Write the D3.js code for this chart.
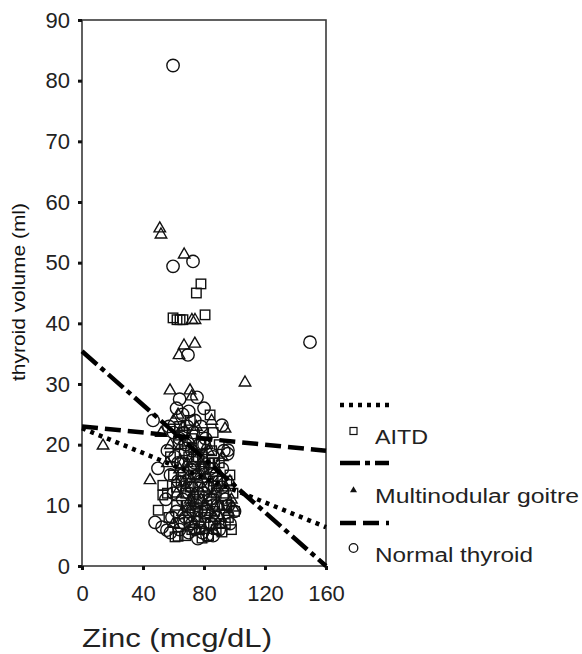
<!DOCTYPE html>
<html><head><meta charset="utf-8">
<script src="https://cdn.jsdelivr.net/npm/d3@7"></script>
<style>body{margin:0;background:#fff}svg{display:block}</style>
</head><body>
<svg id="c" width="582" height="654"></svg>
<script>
// ---- data ----
const xTicks = [0, 40, 80, 120, 160];
const yTicks = [0, 10, 20, 30, 40, 50, 60, 70, 80, 90];
const xTitle = "Zinc (mcg/dL)";
const yTitle = "thyroid volume (ml)";
const legendLabels = ["AITD", "Multinodular goitre", "Normal thyroid"];

// AITD (squares)
const aitdPoints = [
  [78,46.5],[75,45],[59.7,40.9],[62.3,40.6],[64.3,40.6],[66.2,40.6],[80.7,41.4],
  [84,24.9],[97,15],[53,13.3],[53,11.7],[50,9.2],[61,4.8],[78.7,4.6],[91.8,5.6],[63,4.9],
  [66,22],[72,21],[78,20],[85,19],[90,17],[95,14],[88,12],[82,10],[76,9],[70,8],[64,7],
  [68,12],[74,15],[80,16],[86,14],[92,10],[96,8],[99,12],[72,6],[84,7],[88,6],[94,7],
  [66,17],[60,15],[58,18],[62,10],[70,18],[76,13],[82,13],[90,20],[57,8],[79,22],[73,11],
  [87,9],[65,14],[80,7],[68,5],[75,18],[83,17],[93,12],[100,9],[71,24],[63,20],[77,11],[86,22],
  [69,10],[74,9],[81,8],[89,14],[67,19],[73,16],[79,18],[85,11],[91,7],[95,10],[62,13],
  [77,6],[83,5],[87,17],[71,13],[64,23],[56,12],[98,6]
];
// Multinodular goitre (triangles)
const mngPoints = [
  [51,55.7],[51.8,54.7],[67,51.4],[72.1,40.6],[74.1,40.6],[66.9,36.4],[74,36.7],[63.6,34.8],
  [106.9,30.3],[57.7,29],[70.8,29],[13.8,19.9],[44.6,14.2],[93.8,22.7],[72,28],
  [60,24],[66,23],[70,21],[74,19],[78,17],[82,15],[86,12],[90,10],[96,9],[99,9.7],[64,16],
  [68,13],[72,10],[76,8],[80,6],[84,9],[88,16],[92,18],[58,20],[62,12],[70,15],[74,12],
  [78,11],[82,20],[66,9],[60,7],[86,6],[94,13],[98,11],[75,23],[69,17],[85,24],[52,22],
  [56,17],[79,13],[63,25],[91,8],[73,7],[97,14],
  [67,14],[71,11],[77,15],[81,10],[87,8],[65,20],[83,19],[89,13],[75,6]
];
// Normal thyroid (circles)
const normalPoints = [
  [59.7,82.5],[149.5,36.9],[59.7,49.4],[72.8,50.2],[69.5,34.8],[75.4,27.8],[95.7,19.1],
  [91.8,23.2],[46.6,24],[49.8,16.1],[47.9,7.2],[52.5,6.4],[55.7,5.9],
  [62,26],[66,25],[70,25.5],[74,24],[78,23],[60,22],[64,21],[68,20],[72,19],[76,18],[80,17],
  [84,16],[88,15],[92,13],[96,10],[56,19],[58,15],[60,12],[62,9],[64,6],[66,11],[68,14],
  [70,9],[72,13],[74,6],[76,15],[78,9],[80,12],[82,5],[84,11],[86,18],[88,8],[90,6],[92,16],
  [94,11],[65,17],[71,16],[77,20],[83,13],[89,10],[55,11],[59,8],[67,7],[73,22],[79,5.5],
  [85,7],[61,18],[69,23],[75,10],[81,21],[87,13],[63,14],[57,23],[93,19],[97,7],[70,5.5],
  [76,4.5],[58,5.5],[86,5],[100,9],[64,27.5],[80,26],[95.5,18.5],
  [66,15],[70,12],[74,17],[78,14],[82,9],[86,10],[90,14],[68,8],[72,7],[76,12],[80,20],
  [63,17],[67,22],[73,9],[79,16],[85,15]
];
// fitted lines: [start, end]
const aitdFit = [[0, 22.7], [160, 6.4]];
const mngFit = [[0, 35.4], [160, 0]];
const normalFit = [[0, 23.0], [160, 19.0]];

// ---- drawing ----
const svg = d3.select("#c");
const plot = {l: 82, t: 20, r: 326, b: 566};
const x = d3.scaleLinear().domain([0, 160]).range([plot.l, plot.r]);
const y = d3.scaleLinear().domain([0, 90]).range([plot.b, plot.t]);
const FONT = "'Liberation Sans', Arial, Helvetica, sans-serif";

// frame
svg.append("rect").attr("x", plot.l).attr("y", plot.t)
  .attr("width", plot.r - plot.l).attr("height", plot.b - plot.t)
  .attr("fill", "none").attr("stroke", "#3a3a3a").attr("stroke-width", 1.6);

// axes
const gx = svg.append("g").attr("transform", `translate(0,${plot.b})`)
  .call(d3.axisBottom(x).tickValues(xTicks).tickSize(4).tickPadding(15).tickFormat(d3.format("d")));
const gy = svg.append("g").attr("transform", `translate(${plot.l},0)`)
  .call(d3.axisLeft(y).tickValues(yTicks).tickSize(4).tickPadding(8).tickFormat(d3.format("d")));
[gx, gy].forEach(g => {
  g.select(".domain").remove();
  g.selectAll(".tick line").attr("stroke", "#111").attr("stroke-width", 3);
  g.selectAll(".tick text").attr("fill", "#222").style("font-family", FONT).style("font-size", "22px");
});

// titles
svg.append("text").attr("x", 82).attr("y", 647).text(xTitle)
  .attr("textLength", 190).attr("lengthAdjust", "spacingAndGlyphs")
  .style("font-family", FONT).style("font-size", "26px").attr("fill", "#222");
svg.append("text").attr("transform", "translate(25,292) rotate(-90)")
  .attr("text-anchor", "middle").text(yTitle)
  .attr("textLength", 178).attr("lengthAdjust", "spacingAndGlyphs")
  .style("font-family", FONT).style("font-size", "19px").attr("fill", "#111");

// markers
const sq = 9.5, tri = 11.5, rc = 6.2;
const marks = svg.append("g").attr("fill", "none").attr("stroke", "#111").attr("stroke-width", 1.4);
marks.selectAll("rect.a").data(aitdPoints).join("rect").attr("class", "a")
  .attr("x", d => x(d[0]) - sq / 2).attr("y", d => y(d[1]) - sq / 2)
  .attr("width", sq).attr("height", sq);
const triPath = (cx, cy, s) => {
  const h = s * 0.866;
  return `M${cx},${cy - h * 0.62}L${cx + s / 2},${cy + h * 0.38}L${cx - s / 2},${cy + h * 0.38}Z`;
};
marks.selectAll("path.m").data(mngPoints).join("path").attr("class", "m")
  .attr("d", d => triPath(x(d[0]), y(d[1]), tri));
marks.selectAll("circle.n").data(normalPoints).join("circle").attr("class", "n")
  .attr("cx", d => x(d[0])).attr("cy", d => y(d[1])).attr("r", rc);

// fit lines
const styles = {aitd: "4,5", mng: "20,5,5,5", normal: "16,7"};
const line = d3.line().x(d => x(d[0])).y(d => y(d[1]));
const fits = [[aitdFit, styles.aitd], [mngFit, styles.mng], [normalFit, styles.normal]];
svg.append("g").selectAll("path").data(fits).join("path")
  .attr("d", d => line(d[0])).attr("fill", "none").attr("stroke", "#000")
  .attr("stroke-width", 4.5).attr("stroke-dasharray", d => d[1]);

// legend
const lg = svg.append("g");
const legRows = [
  {lineY: 405, dash: styles.aitd, mY: 431, tY: 444, label: legendLabels[0], w: 53, kind: "sq"},
  {lineY: 463, dash: styles.mng, mY: 490, tY: 503, label: legendLabels[1], w: 204, kind: "tri"},
  {lineY: 523, dash: styles.normal, mY: 548, tY: 562, label: legendLabels[2], w: 158, kind: "circ"}
];
legRows.forEach(r => {
  lg.append("line").attr("x1", 340).attr("x2", 389).attr("y1", r.lineY).attr("y2", r.lineY)
    .attr("stroke", "#000").attr("stroke-width", 4.5).attr("stroke-dasharray", r.dash);
  if (r.kind === "sq") lg.append("rect").attr("x", 350).attr("y", r.mY - 3.5).attr("width", 7).attr("height", 7)
    .attr("fill", "none").attr("stroke", "#111").attr("stroke-width", 1.2);
  if (r.kind === "tri") lg.append("path").attr("d", triPath(353.5, r.mY, 7)).attr("fill", "#111");
  if (r.kind === "circ") lg.append("circle").attr("cx", 353.5).attr("cy", r.mY).attr("r", 4.3)
    .attr("fill", "none").attr("stroke", "#111").attr("stroke-width", 1.3);
  lg.append("text").attr("x", 375).attr("y", r.tY).text(r.label)
    .attr("textLength", r.w).attr("lengthAdjust", "spacingAndGlyphs")
    .style("font-family", FONT).style("font-size", "20px").attr("fill", "#222");
});
</script>
</body></html>
